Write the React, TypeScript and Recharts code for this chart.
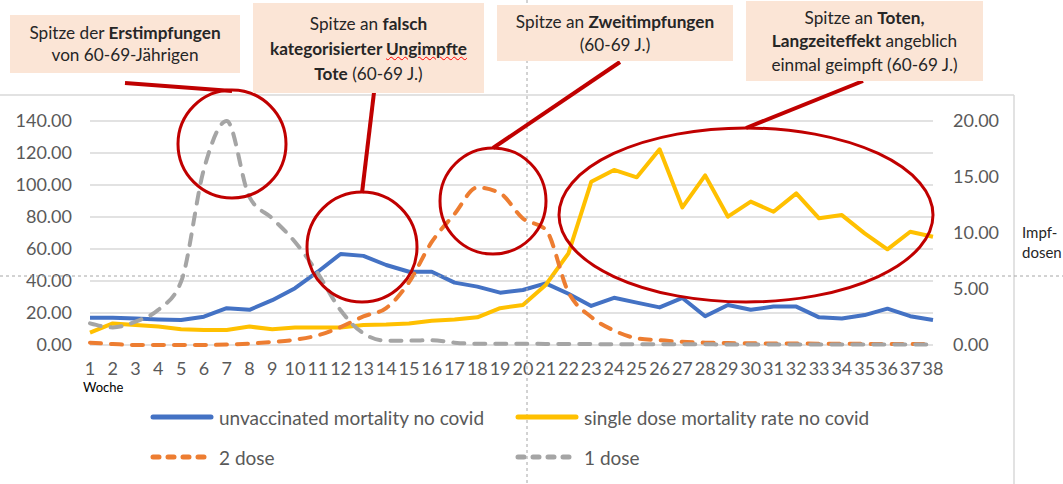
import { ComposedChart, Line, XAxis, YAxis, CartesianGrid } from "recharts";

// Kalenderwochen
const weeks = [
  "1", "2", "3", "4", "5", "6", "7", "8", "9", "10",
  "11", "12", "13", "14", "15", "16", "17", "18", "19", "20",
  "21", "22", "23", "24", "25", "26", "27", "28", "29", "30",
  "31", "32", "33", "34", "35", "36", "37", "38",
];

// mortality (left axis)
const unvaccinated = [
  17.1, 17, 16.5, 16, 15.6, 17.7, 23, 22, 28, 35.5,
  45.8, 56.9, 55.7, 50, 45.8, 45.8, 39, 36.5, 32.7, 34.4,
  38.5, 32, 24.4, 29.5, 26.5, 23.5, 29.4, 18, 25, 22,
  24, 24, 17.3, 16.5, 18.7, 22.7, 18, 15.6,
];
const singleDose = [
  7.7, 13.5, 12.5, 11.5, 9.8, 9.4, 9.4, 11.5, 9.8, 11,
  11, 11, 12.5, 12.8, 13.5, 15.2, 16, 17.3, 23, 25,
  37.5, 57.3, 102, 109.4, 104.8, 122.3, 86, 106, 80.2, 89.6,
  83.3, 94.8, 79.2, 81.2, 69.8, 59.8, 70.8, 67.7,
];

// Impfdosen (right axis)
const twoDose = [
  0.21, 0.09, 0, 0, 0, 0, 0.04, 0.13, 0.27, 0.47,
  0.86, 1.6, 2.55, 3.3, 5.6, 9.2, 11.7, 14.07, 13.55, 11.3,
  10.3, 4.7, 2.5, 1.3, 0.6, 0.43, 0.28, 0.21, 0.17, 0.15,
  0.14, 0.14, 0.12, 0.11, 0.1, 0.09, 0.09, 0.09,
];
const oneDose = [
  1.93, 1.57, 2.09, 3.14, 5.66, 15.7, 20, 13.2, 11.3, 9.2,
  6.4, 3.1, 1.04, 0.39, 0.39, 0.43, 0.21, 0.11, 0.11, 0.11,
  0.1, 0.09, 0.08, 0.07, 0.07, 0.06, 0.06, 0.06, 0.05, 0.05,
  0.05, 0.05, 0.05, 0.05, 0.05, 0.05, 0.05, 0.05,
];

const leftTicks = [0, 20, 40, 60, 80, 100, 120, 140];
const rightTicks = [0, 5, 10, 15, 20];

const data = weeks.map((week, i) => ({
  week,
  unvaccinated: unvaccinated[i],
  singleDose: singleDose[i],
  twoDose: twoDose[i],
  oneDose: oneDose[i],
}));

const FONT = "Lato, 'Open Sans', sans-serif";
const AXIS_GREY = "#595959";
const RED = "#c00000";
const BOX_BG = "#fbe5d6";

const tickStyle = { fill: AXIS_GREY, fontSize: 18, fontFamily: FONT };

const boxStyle = (left: number, top: number, width: number, height: number, lineHeight: number) => ({
  position: "absolute" as const,
  left,
  top,
  width,
  height,
  background: BOX_BG,
  display: "flex",
  flexDirection: "column" as const,
  justifyContent: "center",
  alignItems: "center",
  textAlign: "center" as const,
  fontFamily: FONT,
  fontSize: 17.2,
  lineHeight: `${lineHeight}px`,
  color: "#262626",
  whiteSpace: "nowrap" as const,
});

const legendItems = [
  { label: "unvaccinated mortality no covid", color: "#4472c4", dash: false, left: 150, top: 417 },
  { label: "single dose mortality rate no covid", color: "#ffc000", dash: false, left: 515, top: 417 },
  { label: "2 dose", color: "#ed7d31", dash: true, left: 150, top: 457 },
  { label: "1 dose", color: "#a5a5a5", dash: true, left: 515, top: 457 },
];

export default function App() {
  return (
    <div style={{ position: "absolute", left: 0, top: 0, width: 1063, height: 484, background: "#fff", overflow: "hidden" }}>
      <ComposedChart
        width={1063}
        height={484}
        data={data}
        margin={{ top: 121, right: 30, bottom: 109, left: 10 }}
      >
        <CartesianGrid yAxisId="left" vertical={false} stroke="#d9d9d9" strokeWidth={1.5} />
        <XAxis
          dataKey="week"
          height={30}
          interval={0}
          axisLine={false}
          tickLine={false}
          tickMargin={11}
          tick={tickStyle}
        />
        <YAxis
          yAxisId="left"
          width={80}
          domain={[0, 140]}
          ticks={leftTicks}
          axisLine={false}
          tickLine={false}
          tickMargin={12}
          tick={tickStyle}
          tickFormatter={(v: number) => v.toFixed(2)}
        />
        <YAxis
          yAxisId="right"
          orientation="right"
          width={100}
          domain={[0, 20]}
          ticks={rightTicks}
          axisLine={false}
          tickLine={false}
          tickMargin={14}
          tick={tickStyle}
          tickFormatter={(v: number) => v.toFixed(2)}
        />
        <Line
          yAxisId="left"
          type="linear"
          dataKey="unvaccinated"
          stroke="#4472c4"
          strokeWidth={4}
          strokeLinejoin="round"
          dot={false}
          isAnimationActive={false}
        />
        <Line
          yAxisId="left"
          type="linear"
          dataKey="singleDose"
          stroke="#ffc000"
          strokeWidth={4}
          strokeLinejoin="round"
          dot={false}
          isAnimationActive={false}
        />
        <Line
          yAxisId="right"
          type="monotone"
          dataKey="twoDose"
          stroke="#ed7d31"
          strokeWidth={4}
          strokeDasharray="11 10"
          strokeLinecap="round"
          dot={false}
          isAnimationActive={false}
        />
        <Line
          yAxisId="right"
          type="monotone"
          dataKey="oneDose"
          stroke="#a5a5a5"
          strokeWidth={4}
          strokeDasharray="11 10"
          strokeLinecap="round"
          dot={false}
          isAnimationActive={false}
        />
      </ComposedChart>

      {/* frame, crosshair and red annotations */}
      <svg
        width={1063}
        height={484}
        style={{ position: "absolute", left: 0, top: 0, pointerEvents: "none" }}
      >
        <line x1={0} y1={95} x2={1014} y2={95} stroke="#d9d9d9" strokeWidth={1.5} />
        <line x1={1014} y1={95} x2={1014} y2={484} stroke="#d9d9d9" strokeWidth={1.5} />
        <line x1={527} y1={0} x2={527} y2={484} stroke="#a6a6a6" strokeWidth={1} strokeDasharray="3 3" />
        <line x1={0} y1={276} x2={1063} y2={276} stroke="#a6a6a6" strokeWidth={1} strokeDasharray="3 3" />

        <circle cx={232} cy={144} r={54} fill="none" stroke={RED} strokeWidth={3} />
        <circle cx={362} cy={247} r={55} fill="none" stroke={RED} strokeWidth={3} />
        <circle cx={493} cy={201} r={53} fill="none" stroke={RED} strokeWidth={3} />
        <ellipse cx={746} cy={215} rx={187} ry={87} fill="none" stroke={RED} strokeWidth={3} />

        <line x1={125} y1={83} x2={232} y2={91} stroke={RED} strokeWidth={4} />
        <line x1={375} y1={84} x2={362} y2={193} stroke={RED} strokeWidth={4} />
        <line x1={620} y1={62} x2={493} y2={148} stroke={RED} strokeWidth={4} />
        <line x1={863} y1={81} x2={746} y2={128} stroke={RED} strokeWidth={4} />
      </svg>

      <div style={boxStyle(10, 15, 230, 58, 22)}>
        <div>Spitze der <b>Erstimpfungen</b></div>
        <div>von 60-69-Jährigen</div>
      </div>
      <div style={boxStyle(253, 3, 231, 90, 25)}>
        <div>Spitze an <b>falsch</b></div>
        <div>
          <b>kategorisierter </b>
          <b style={{ textDecoration: "underline wavy red", textDecorationThickness: 1 }}>Ungimpfte</b>
        </div>
        <div><b>Tote</b> (60-69 J.)</div>
      </div>
      <div style={boxStyle(497, 5, 236, 56, 23)}>
        <div>Spitze an <b>Zweitimpfungen</b></div>
        <div>(60-69 J.)</div>
      </div>
      <div style={boxStyle(746, 1, 237, 80, 23.5)}>
        <div>Spitze an <b>Toten,</b></div>
        <div><b>Langzeiteffekt</b> angeblich</div>
        <div>einmal geimpft (60-69 J.)</div>
      </div>

      <div style={{ position: "absolute", left: 1022, top: 222, fontFamily: FONT, fontSize: 15, lineHeight: "20px", color: "#262626" }}>
        Impf-
        <br />
        dosen
      </div>
      <div style={{ position: "absolute", left: 83, top: 378, fontFamily: FONT, fontSize: 13, lineHeight: "18px", color: "#000" }}>
        Woche
      </div>

      {legendItems.map((item) => (
        <div
          key={item.label}
          style={{ position: "absolute", left: item.left, top: item.top - 12, height: 24, display: "flex", alignItems: "center", fontFamily: FONT, fontSize: 19, color: AXIS_GREY, whiteSpace: "nowrap" }}
        >
          <svg width={64} height={10} style={{ marginRight: 5 }}>
            <line
              x1={3}
              y1={5}
              x2={item.dash ? 58 : 61}
              y2={5}
              stroke={item.color}
              strokeWidth={5}
              strokeLinecap="round"
              strokeDasharray={item.dash ? "6 9" : undefined}
            />
          </svg>
          {item.label}
        </div>
      ))}
    </div>
  );
}
